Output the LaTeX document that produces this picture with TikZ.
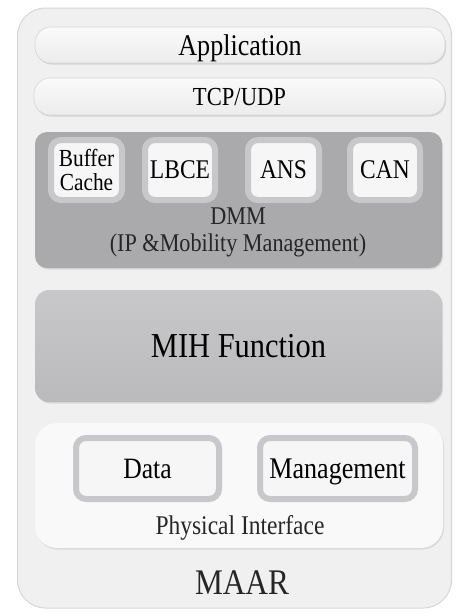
\documentclass[tikz,border=0pt]{standalone}
\usepackage{fontspec}
\setmainfont{Liberation Serif}[FakeStretch=0.87]
\usetikzlibrary{shadows}
\definecolor{outerfill}{RGB}{240,240,241}
\definecolor{outerline}{RGB}{214,214,216}
\definecolor{barfill}{RGB}{250,250,250}
\definecolor{barbottom}{RGB}{236,236,237}
\definecolor{dmmfill}{RGB}{170,170,172}
\definecolor{ringcol}{RGB}{200,200,202}
\definecolor{innerfill}{RGB}{246,246,246}
\definecolor{mihtop}{RGB}{200,200,202}
\definecolor{mihbottom}{RGB}{186,186,188}
\definecolor{physfill}{RGB}{249,249,249}
\tikzset{
  box/.style={inner sep=0pt, rounded corners=#1},
  flat/.style={text depth=0pt},
  bar/.style={box=16pt, flat, top color=barfill, bottom color=barbottom, draw=outerline, line width=0.6pt,
    drop shadow={shadow xshift=1pt, shadow yshift=-1.5pt, opacity=0.25, fill=gray}},
  ringbox/.style={box=10pt, draw=ringcol, line width=6pt, fill=innerfill},
  lbl/.style={inner sep=0pt, text=black!85},
}
\begin{document}
\begin{tikzpicture}[x=1pt,y=-1pt]
\useasboundingbox (0,0) rectangle (462,614);
% outer MAAR box
\node[box=28pt, fill=outerfill, draw=outerline, line width=1pt, minimum width=434pt, minimum height=600pt] (maar) at (234.5,308) {};
% application and transport
\node[bar, minimum width=410pt, minimum height=36pt, font=\fontsize{30}{32}\selectfont] (app) at (240,45) {Application};
\node[bar, minimum width=411pt, minimum height=37pt, font=\fontsize{26}{28}\selectfont] (tcp) at (239.5,96.5) {TCP/UDP};
% DMM block
\node[box=12pt, fill=dmmfill, minimum width=407pt, minimum height=136pt,
  drop shadow={shadow xshift=1pt, shadow yshift=-1.5pt, opacity=0.2, fill=gray}] (dmm) at (238.5,200) {};
\node[ringbox, minimum width=71pt, minimum height=60pt, align=center, font=\fontsize{24.5}{24}\selectfont] (buf) at (86.5,170) {Buffer\\Cache};
\node[ringbox, flat, minimum width=70pt, minimum height=60pt, font=\fontsize{27}{29}\selectfont] (lbce) at (180,170) {LBCE};
\node[ringbox, flat, minimum width=71pt, minimum height=60pt, font=\fontsize{27}{29}\selectfont] (ans) at (283.5,170) {ANS};
\node[ringbox, flat, minimum width=70pt, minimum height=60pt, font=\fontsize{27}{29}\selectfont] (can) at (385,170) {CAN};
\node[lbl, flat, font=\fontsize{25.5}{27}\selectfont] (dmmt) at (238,216) {DMM};
\node[lbl, flat, font=\fontsize{25.5}{27}\selectfont] (dmmt2) at (238,243) {(IP \&Mobility Management)};
% MIH
\node[box=14pt, flat, top color=mihtop, bottom color=mihbottom, minimum width=407pt, minimum height=112pt,
  drop shadow={shadow xshift=1pt, shadow yshift=-1.5pt, opacity=0.2, fill=gray}, font=\fontsize{35}{37}\selectfont] (mih) at (238.5,346) {MIH Function};
% physical interface
\node[box=22pt, fill=physfill, minimum width=408pt, minimum height=125pt,
  drop shadow={shadow xshift=1pt, shadow yshift=-1.5pt, opacity=0.2, fill=gray}] (phy) at (239,485.5) {};
\node[ringbox, flat, minimum width=143pt, minimum height=61pt, font=\fontsize{29.5}{31}\selectfont] (data) at (147.5,468.5) {Data};
\node[ringbox, flat, minimum width=155pt, minimum height=61pt, font=\fontsize{30}{32}\selectfont] (mgmt) at (337.5,468.5) {Management};
\node[lbl, flat, font=\fontsize{27}{29}\selectfont] (phyt) at (240,525) {Physical Interface};
\node[lbl, flat, font=\fontsize{36}{38}\selectfont] (maart) at (242,583) {MAAR};
\end{tikzpicture}
\end{document}
